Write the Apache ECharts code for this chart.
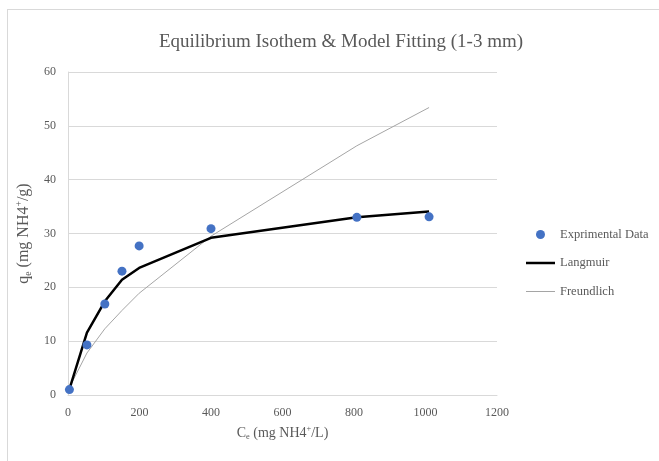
<!DOCTYPE html>
<html>
<head>
<meta charset="utf-8">
<script src="https://cdn.jsdelivr.net/npm/echarts@6/dist/echarts.min.js"></script>
<style>
  html, body { margin: 0; padding: 0; background: #fff; }
  #frame { position: absolute; left: 7px; top: 9px; width: 660px; height: 460px; border: 1px solid #d9d9d9; }
  #chart { width: 659px; height: 461px; position: absolute; left: 0; top: 0; }
</style>
</head>
<body>
<div id="frame"></div>
<div id="chart"></div>
<script>
// 平衡浓度 Ce (mg NH4+/L)
const ceValues = [4, 53, 103, 151, 199, 400, 808, 1010];
// 实验数据 qe
const expValues = [1.0, 9.3, 16.9, 23.0, 27.7, 30.9, 33.0, 33.1];
// Langmuir 拟合
const langmuirValues = [1.1, 11.6, 17.4, 21.4, 23.6, 29.2, 33.0, 34.1];
// Freundlich 拟合
const freundlichValues = [1.4, 7.8, 12.3, 15.7, 18.9, 29.5, 46.3, 53.4];
const xTicks = [0, 200, 400, 600, 800, 1000, 1200];
const yTicks = [0, 10, 20, 30, 40, 50, 60];

const pair = (xs, ys) => xs.map((x, i) => [x, ys[i]]);
const serif = "'Liberation Serif', 'Times New Roman', serif";
const grey = '#595959';

// 坐标轴标题的上下标
const nameRich = (size) => ({
  a: { fontFamily: serif, fontSize: size, color: grey },
  s: { fontFamily: serif, fontSize: size * 0.6, color: grey, padding: [size * 0.55, 0, 0, 0] },
  p: { fontFamily: serif, fontSize: size * 0.6, color: grey, padding: [0, 0, size * 0.55, 0] }
});

const chart = echarts.init(document.getElementById('chart'));
chart.setOption({
  animation: false,
  title: {
    text: 'Equilibrium Isothem & Model Fitting (1-3 mm)',
    left: 336,
    textAlign: 'center',
    top: 28,
    textStyle: { fontFamily: serif, fontSize: 19, fontWeight: 'normal', color: grey }
  },
  grid: { left: 68, right: 162, top: 72, bottom: 66 },
  legend: {
    orient: 'vertical',
    left: 521,
    top: 223,
    itemGap: 15.5,
    itemWidth: 29,
    itemHeight: 9,
    textStyle: { fontFamily: serif, fontSize: 12.5, color: grey },
    data: [
      { name: 'Exprimental Data', icon: 'circle' },
      { name: 'Langmuir', icon: 'path://M0,0H29V2.5H0Z' },
      { name: 'Freundlich', icon: 'path://M0,0H29V1H0Z' }
    ]
  },
  xAxis: {
    type: 'value',
    min: xTicks[0],
    max: xTicks[xTicks.length - 1],
    interval: 200,
    splitLine: { show: false },
    axisLine: { show: true, lineStyle: { color: '#d9d9d9', width: 1 } },
    axisTick: { show: false },
    axisLabel: { fontFamily: serif, fontSize: 12, color: grey, margin: 12, formatter: (v) => String(v) },
    name: '{a|C}{s|e}{a| (mg NH4}{p|+}{a|/L)}',
    nameLocation: 'middle',
    nameGap: 30,
    nameTextStyle: { rich: nameRich(14) }
  },
  yAxis: {
    type: 'value',
    min: yTicks[0],
    max: yTicks[yTicks.length - 1],
    interval: 10,
    splitLine: { show: true, lineStyle: { color: '#d9d9d9', width: 1 } },
    axisLine: { show: true, lineStyle: { color: '#d9d9d9', width: 1 } },
    axisTick: { show: false },
    axisLabel: { fontFamily: serif, fontSize: 12, color: grey, margin: 12 },
    name: '{a|q}{s|e}{a| (mg NH4}{p|+}{a|/g)}',
    nameLocation: 'middle',
    nameRotate: 90,
    nameGap: 26,
    nameTextStyle: { rich: nameRich(16) }
  },
  series: [
    {
      name: 'Exprimental Data',
      type: 'scatter',
      z: 5,
      symbol: 'circle',
      symbolSize: 9,
      itemStyle: { color: '#4472c4', opacity: 1 },
      data: pair(ceValues, expValues)
    },
    {
      name: 'Langmuir',
      type: 'line',
      z: 4,
      showSymbol: false,
      symbol: 'none',
      lineStyle: { color: '#000', width: 2.5 },
      itemStyle: { color: '#000' },
      data: pair(ceValues, langmuirValues)
    },
    {
      name: 'Freundlich',
      type: 'line',
      z: 3,
      showSymbol: false,
      symbol: 'none',
      lineStyle: { color: '#a5a5a5', width: 1 },
      itemStyle: { color: '#a5a5a5' },
      data: pair(ceValues, freundlichValues)
    }
  ]
});
</script>
</body>
</html>
